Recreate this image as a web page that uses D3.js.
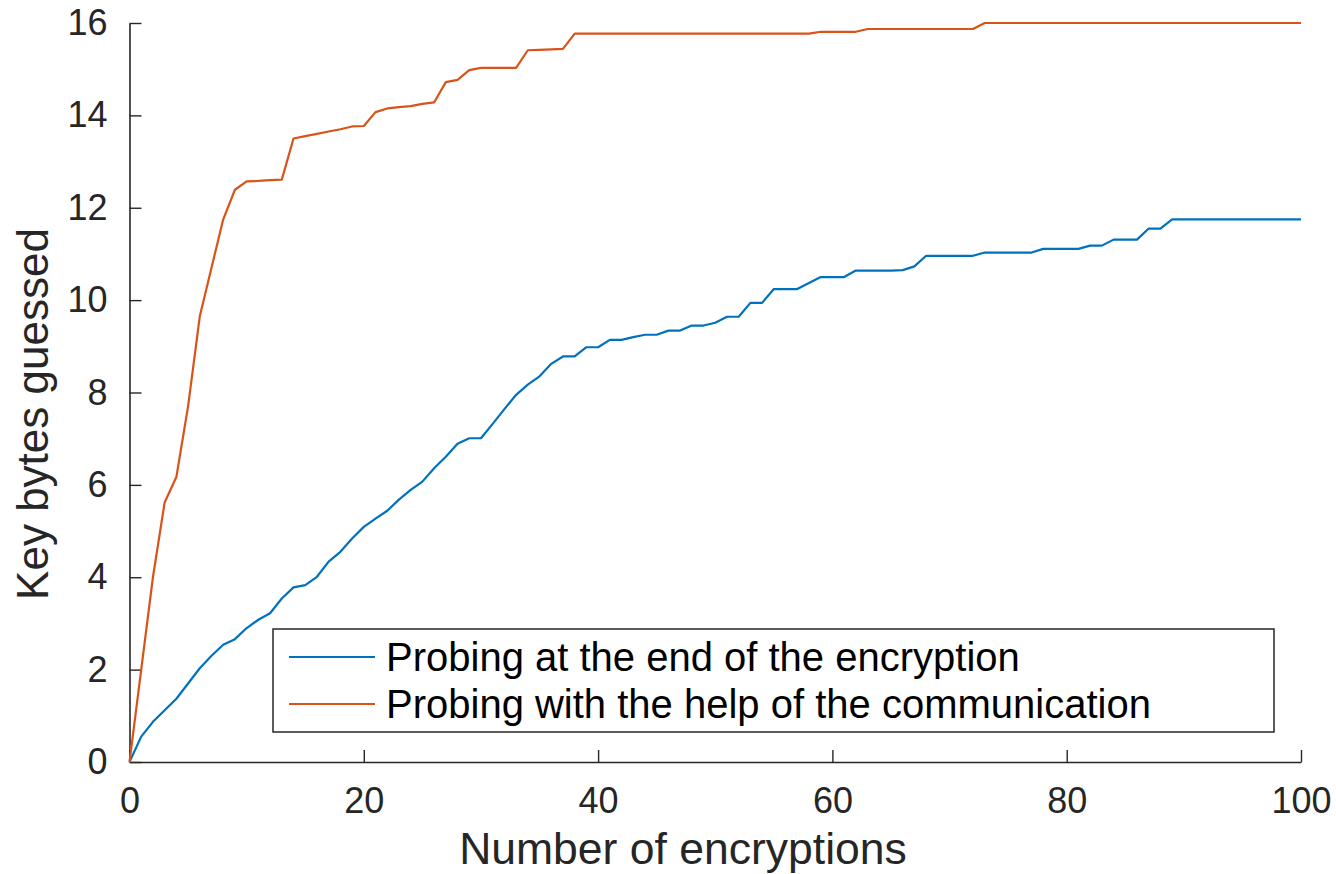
<!DOCTYPE html>
<html>
<head>
<meta charset="utf-8">
<script src="https://cdn.jsdelivr.net/npm/d3@7"></script>
<style>
  html, body { margin: 0; padding: 0; background: #fff; }
  svg { display: block; font-family: "Liberation Sans", Arial, Helvetica, sans-serif; }
</style>
</head>
<body>
<svg id="chart" width="1336" height="874"></svg>
<script>
// Number of encryptions (x) for every sample
const encryptions = d3.range(0, 101);

// Key bytes guessed when probing at the end of the encryption
const probingEnd = [
  0, 0.55, 0.87, 1.12, 1.37, 1.70, 2.03, 2.30, 2.54, 2.66,
  2.90, 3.08, 3.22, 3.54, 3.78, 3.83, 4.01, 4.34, 4.55, 4.84,
  5.09, 5.27, 5.44, 5.68, 5.89, 6.07, 6.36, 6.61, 6.89, 7.01,
  7.01, 7.32, 7.64, 7.95, 8.17, 8.35, 8.62, 8.78, 8.78, 8.98,
  8.98, 9.14, 9.14, 9.20, 9.25, 9.25, 9.34, 9.34, 9.45, 9.45,
  9.51, 9.64, 9.64, 9.94, 9.94, 10.24, 10.24, 10.24, 10.37, 10.50,
  10.50, 10.50, 10.64, 10.64, 10.64, 10.64, 10.65, 10.73, 10.96, 10.96,
  10.96, 10.96, 10.96, 11.03, 11.03, 11.03, 11.03, 11.03, 11.11, 11.11,
  11.11, 11.11, 11.18, 11.18, 11.31, 11.31, 11.31, 11.55, 11.55, 11.75,
  11.75, 11.75, 11.75, 11.75, 11.75, 11.75, 11.75, 11.75, 11.75, 11.75,
  11.75
];

// Key bytes guessed when probing with the help of the communication
const probingComm = [
  0, 2.0, 4.0, 5.62, 6.17, 7.7, 9.65, 10.7, 11.75, 12.39,
  12.57, 12.58, 12.6, 12.61, 13.5, 13.55, 13.6, 13.65, 13.7, 13.76,
  13.77, 14.07, 14.15, 14.18, 14.2, 14.25, 14.28, 14.72, 14.77, 14.98,
  15.03, 15.03, 15.03, 15.03, 15.41, 15.42, 15.43, 15.44, 15.77, 15.77,
  15.77, 15.77, 15.77, 15.77, 15.77, 15.77, 15.77, 15.77, 15.77, 15.77,
  15.77, 15.77, 15.77, 15.77, 15.77, 15.77, 15.77, 15.77, 15.77, 15.81,
  15.81, 15.81, 15.81, 15.87, 15.87, 15.87, 15.87, 15.87, 15.87, 15.87,
  15.87, 15.87, 15.87, 16, 16, 16, 16, 16, 16, 16,
  16, 16, 16, 16, 16, 16, 16, 16, 16, 16,
  16, 16, 16, 16, 16, 16, 16, 16, 16, 16,
  16
];

const seriesNames = [
  "Probing at the end of the encryption",
  "Probing with the help of the communication"
];
const seriesColors = ["#0072BD", "#D95319"];
const xTicks = [0, 20, 40, 60, 80, 100];
const yTicks = [0, 2, 4, 6, 8, 10, 12, 14, 16];

const ink = "#262626";
const svg = d3.select("#chart");

const x = d3.scaleLinear().domain([0, 100]).range([129.5, 1301]);
const y = d3.scaleLinear().domain([0, 16]).range([762, 23]);

// Axes with inward ticks, left and bottom only
const xAxis = d3.axisBottom(x).tickValues(xTicks).tickFormat(d3.format("d"))
  .tickSizeInner(-12).tickSizeOuter(0).tickPadding(25);
const yAxis = d3.axisLeft(y).tickValues(yTicks).tickFormat(d3.format("d"))
  .tickSizeInner(-12).tickSizeOuter(0).tickPadding(22);

const gx = svg.append("g").attr("transform", `translate(0,${y(0)})`).call(xAxis);
const gy = svg.append("g").attr("transform", `translate(${x(0)},0)`).call(yAxis);

[gx, gy].forEach(g => {
  g.select(".domain").attr("stroke", ink).attr("stroke-width", 1.6);
  g.selectAll(".tick line").attr("stroke", ink).attr("stroke-width", 1.4);
  g.selectAll(".tick text")
    .attr("fill", ink)
    .style("font-size", "36px")
    .style("font-family", "'Liberation Sans', Arial, Helvetica, sans-serif");
});

// Axis titles
svg.append("text")
  .attr("x", 683).attr("y", 864)
  .attr("text-anchor", "middle")
  .attr("fill", ink)
  .style("font-size", "44.5px")
  .text("Number of encryptions");

svg.append("text")
  .attr("transform", "translate(48,414) rotate(-90)")
  .attr("text-anchor", "middle")
  .attr("fill", ink)
  .style("font-size", "44px")
  .text("Key bytes guessed");

// Series lines
const line = d3.line()
  .x((d, i) => x(encryptions[i]))
  .y(d => y(d));

[probingEnd, probingComm].forEach((vals, k) => {
  svg.append("path")
    .datum(vals)
    .attr("fill", "none")
    .attr("stroke", seriesColors[k])
    .attr("stroke-width", 2.2)
    .attr("stroke-linejoin", "round")
    .attr("d", line);
});

// Legend
const legend = svg.append("g");
legend.append("rect")
  .attr("x", 273).attr("y", 629)
  .attr("width", 1001).attr("height", 103)
  .attr("fill", "#fff")
  .attr("stroke", ink).attr("stroke-width", 1.5);

const rowY = [657, 704];
seriesNames.forEach((name, k) => {
  legend.append("line")
    .attr("x1", 289).attr("x2", 375)
    .attr("y1", rowY[k]).attr("y2", rowY[k])
    .attr("stroke", seriesColors[k]).attr("stroke-width", 2);
  legend.append("text")
    .attr("x", 386).attr("y", rowY[k] + 14)
    .attr("fill", "#000")
    .style("font-size", "40px")
    .text(name);
});
</script>
</body>
</html>
